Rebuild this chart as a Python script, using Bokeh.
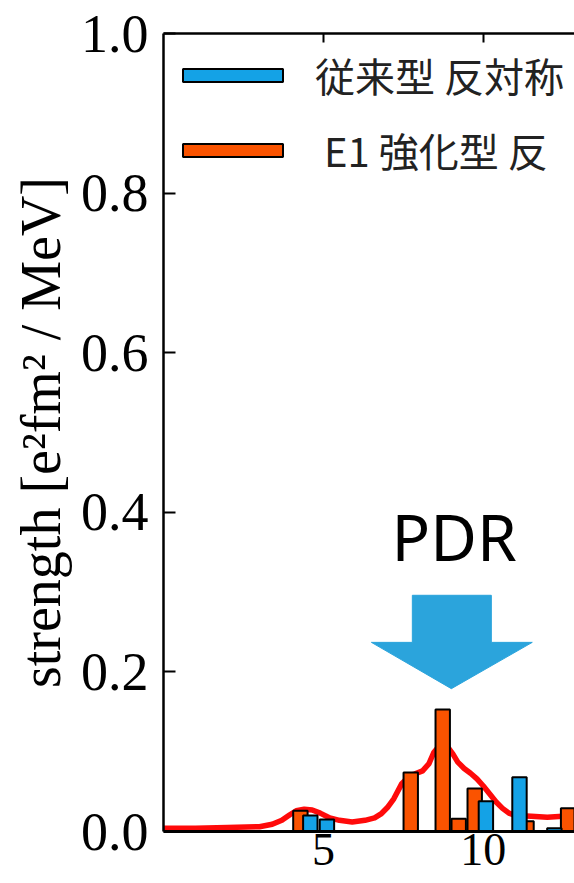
from bokeh.plotting import figure
from bokeh.models import (Range1d, LinearAxis, FixedTicker, NumeralTickFormatter,
                          Legend, LegendItem, ColumnDataSource)
from bokeh.core.properties import value
from bokeh.embed import file_html
from bokeh.resources import INLINE

# ---------------- data ----------------
X_TICKS = [5, 10]
Y_TICKS = [0.0, 0.2, 0.4, 0.6, 0.8, 1.0]

# conventional AMD (blue bars)
blue_energy = [4.59, 5.11, 10.08, 11.13, 12.22]
blue_strength = [0.020, 0.015, 0.038, 0.068, 0.004]

# E1-enhanced AMD (orange bars)
orange_energy = [4.28, 7.73, 8.73, 9.23, 9.73, 11.35, 12.65]
orange_strength = [0.026, 0.074, 0.153, 0.016, 0.054, 0.013, 0.029]

# smoothed strength function (red curve)
curve_energy = [0.0, 1.0, 2.0, 3.0, 3.4, 3.7, 3.95, 4.15, 4.4, 4.65, 4.9, 5.2,
                5.5, 5.9, 6.3, 6.6, 6.8, 7.0, 7.2, 7.45, 7.7, 7.85, 8.1, 8.3,
                8.45, 8.6, 8.75, 8.9, 9.05, 9.2, 9.4, 9.6, 9.8, 10.0, 10.2,
                10.4, 10.6, 10.8, 11.0, 11.5, 12.0, 12.85]
curve_strength = [0.004, 0.004, 0.005, 0.006, 0.009, 0.014, 0.021, 0.026, 0.028,
                  0.027, 0.023, 0.017, 0.014, 0.012, 0.014, 0.017, 0.022, 0.030,
                  0.041, 0.060, 0.070, 0.072, 0.076, 0.085, 0.099, 0.106, 0.108,
                  0.105, 0.097, 0.087, 0.079, 0.073, 0.066, 0.057, 0.047, 0.037,
                  0.029, 0.023, 0.020, 0.019, 0.018, 0.020]

LABEL_BLUE = "従来型 反対称"
LABEL_ORANGE = " E1 強化型 反"
Y_LABEL = "strength [e²fm² / MeV]"
PDR_TEXT = "PDR"

# annotation arrow (data units)
ARROW_TIP_X, ARROW_TIP_Y = 9.0, 0.179
ARROW_HEAD_X0, ARROW_HEAD_X1, ARROW_HEAD_Y = 6.5, 11.53, 0.237
ARROW_SHAFT_X0, ARROW_SHAFT_X1, ARROW_TOP_Y = 7.78, 10.25, 0.296
PDR_X, PDR_Y = 9.09, 0.370

BLUE = "#14a2e6"
ORANGE = "#fa5300"
RED = "#ff0a0a"
ARROW_BLUE = "#2ba4dc"

X_START, X_END = 0.0, 12.85

# ---------------- figure ----------------
p = figure(width=574, height=883, output_backend="svg", toolbar_location=None,
           x_range=Range1d(X_START, X_END), y_range=Range1d(0.0, 1.0),
           min_border_left=163, min_border_top=33, min_border_right=0,
           min_border_bottom=52)
p.grid.visible = False
p.outline_line_color = None
p.background_fill_color = "white"
p.border_fill_color = "white"

# y axis
yax = p.yaxis[0]
yax.ticker = FixedTicker(ticks=Y_TICKS)
yax.formatter = NumeralTickFormatter(format="0.0")
yax.major_tick_in = 12
yax.major_tick_out = 0
yax.minor_tick_in = 0
yax.minor_tick_out = 0
yax.axis_line_width = 2.5
yax.major_tick_line_width = 2
yax.major_label_text_font = "Liberation Serif"
yax.major_label_text_font_size = "54px"
yax.major_label_text_color = "black"
yax.major_label_standoff = 15
yax.axis_label = Y_LABEL
yax.axis_label_text_font = "Liberation Serif"
yax.axis_label_text_font_size = "56px"
yax.axis_label_text_font_style = "normal"
yax.axis_label_text_color = "black"
yax.axis_label_standoff = 6

# x axis
xax = p.xaxis[0]
xax.ticker = FixedTicker(ticks=X_TICKS)
xax.major_tick_in = 0
xax.major_tick_out = 0
xax.minor_tick_in = 0
xax.minor_tick_out = 0
xax.axis_line_width = 3
xax.major_label_text_font = "Liberation Serif"
xax.major_label_text_font_size = "46px"
xax.major_label_text_color = "black"
xax.major_label_standoff = 2

# top spine with inward ticks (no labels)
top = LinearAxis(ticker=FixedTicker(ticks=X_TICKS),
                 major_label_overrides={t: "" for t in X_TICKS},
                 major_tick_in=9, major_tick_out=0, minor_tick_in=0, minor_tick_out=0,
                 axis_line_width=2.5, major_tick_line_width=2, major_label_standoff=0)
p.add_layout(top, "above")

# curve
p.line(curve_energy, curve_strength, line_color=RED, line_width=5.5,
       line_join="round", line_cap="round")

# bars
src_o = ColumnDataSource(dict(x=orange_energy, top=orange_strength))
src_b = ColumnDataSource(dict(x=blue_energy, top=blue_strength))
r_o = p.vbar(x="x", top="top", bottom=0, width=0.45, source=src_o,
             fill_color=ORANGE, line_color="black", line_width=2)
r_b = p.vbar(x="x", top="top", bottom=0, width=0.45, source=src_b,
             fill_color=BLUE, line_color="black", line_width=2)

# PDR arrow
arrow_xs = [ARROW_SHAFT_X0, ARROW_SHAFT_X1, ARROW_SHAFT_X1, ARROW_HEAD_X1,
            ARROW_TIP_X, ARROW_HEAD_X0, ARROW_SHAFT_X0]
arrow_ys = [ARROW_TOP_Y, ARROW_TOP_Y, ARROW_HEAD_Y, ARROW_HEAD_Y,
            ARROW_TIP_Y, ARROW_HEAD_Y, ARROW_HEAD_Y]
p.patch(arrow_xs, arrow_ys, fill_color=ARROW_BLUE, line_color=ARROW_BLUE, line_width=1)
p.text(x=[PDR_X], y=[PDR_Y], text=[PDR_TEXT], text_font=value("Noto Sans"),
       text_font_size="64px", text_align="center", text_baseline="alphabetic",
       text_color="black")

# legend
legend = Legend(items=[LegendItem(label=LABEL_BLUE, renderers=[r_b]),
                       LegendItem(label=LABEL_ORANGE, renderers=[r_o])],
                location=(7, 652))
legend.label_text_font = "Noto Sans CJK JP"
legend.label_text_font_size = "40px"
legend.label_text_color = "#222222"
legend.glyph_width = 125
legend.glyph_height = 16
legend.label_standoff = 20
legend.spacing = 17
legend.padding = 8
legend.margin = 0
legend.background_fill_alpha = 0
legend.border_line_color = None
p.add_layout(legend)

open("out.html", "w").write(file_html(p, INLINE))
